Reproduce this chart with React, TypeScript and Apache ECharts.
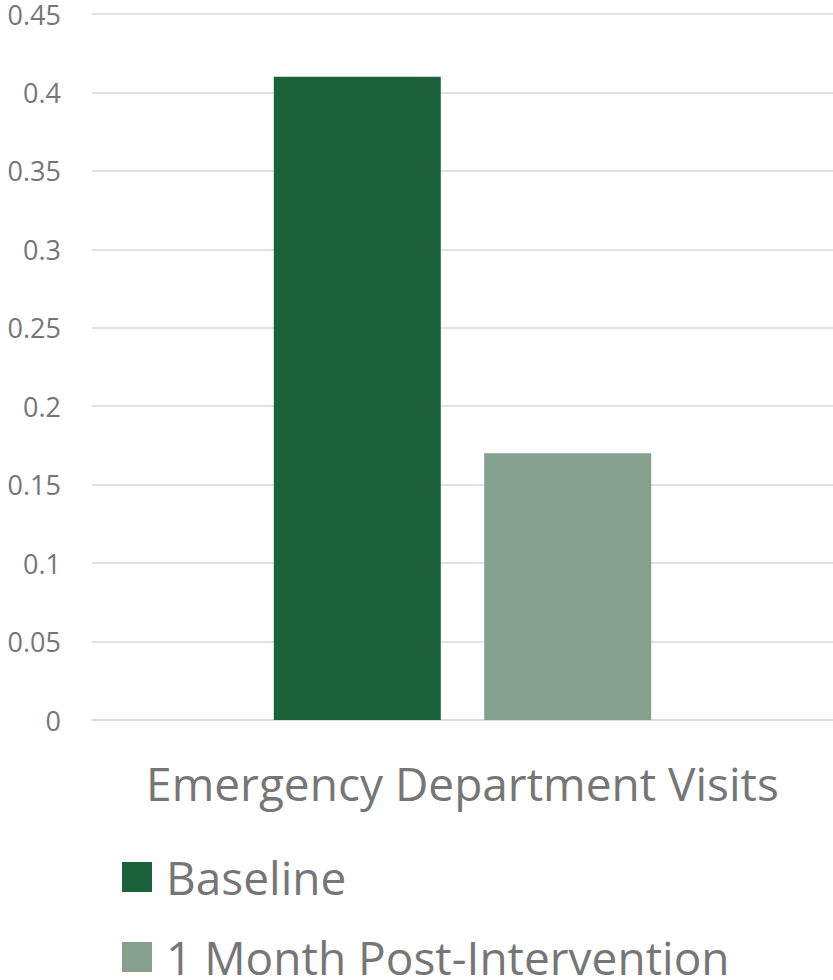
import React, { useEffect, useRef } from "react";
import * as echarts from "echarts";

const categories = ["Emergency Department Visits"];
const seriesNames = ["Baseline", "1 Month Post-Intervention"];
const baselineValues = [0.41];
const postValues = [0.17];
const seriesColors = ["#1B613A", "#85A08D"];

export default function App() {
  const ref = useRef<HTMLDivElement>(null);
  useEffect(() => {
    if (!ref.current) return;
    const chart = echarts.init(ref.current, undefined, { renderer: "svg" });
    const font = "'Open Sans', 'Noto Sans', sans-serif";
    const legendBase = {
      orient: "vertical",
      left: 122,
      padding: 0,
      itemWidth: 30,
      itemHeight: 30,
      icon: "rect",
      textStyle: {
        fontSize: 46,
        lineHeight: 46,
        color: "#767676",
        fontFamily: font,
        padding: [0, 0, 0, 9],
      },
    };
    chart.setOption({
      animation: false,
      textStyle: { fontFamily: font },
      grid: { left: 92, right: 0, top: 14, bottom: 260, containLabel: false },
      legend: [
        { ...legendBase, top: 854, data: [seriesNames[0]] },
        { ...legendBase, top: 934, data: [seriesNames[1]] },
      ],
      xAxis: {
        type: "category",
        data: categories,
        axisLine: { show: true, lineStyle: { color: "#d9d9d9", width: 1.5 } },
        axisTick: { show: false },
        axisLabel: { fontSize: 46, color: "#767676", margin: 40, fontFamily: font },
      },
      yAxis: {
        type: "value",
        min: 0,
        max: 0.45,
        interval: 0.05,
        axisLine: { show: false },
        axisTick: { show: false },
        splitLine: { lineStyle: { color: "#d9d9d9", width: 1.5 } },
        axisLabel: {
          fontSize: 27,
          color: "#767676",
          margin: 31,
          fontFamily: font,
          formatter: (v: number) => String(Math.round(v * 100) / 100),
        },
      },
      series: [
        {
          name: seriesNames[0],
          type: "bar",
          data: baselineValues,
          barWidth: 167,
          barGap: "26%",
          itemStyle: { color: seriesColors[0] },
        },
        {
          name: seriesNames[1],
          type: "bar",
          data: postValues,
          barWidth: 167,
          barGap: "26%",
          itemStyle: { color: seriesColors[1] },
        },
      ],
    });
    return () => chart.dispose();
  }, []);
  return <div ref={ref} style={{ width: 833, height: 980, position: "absolute", left: 0, top: 0 }} />;
}
